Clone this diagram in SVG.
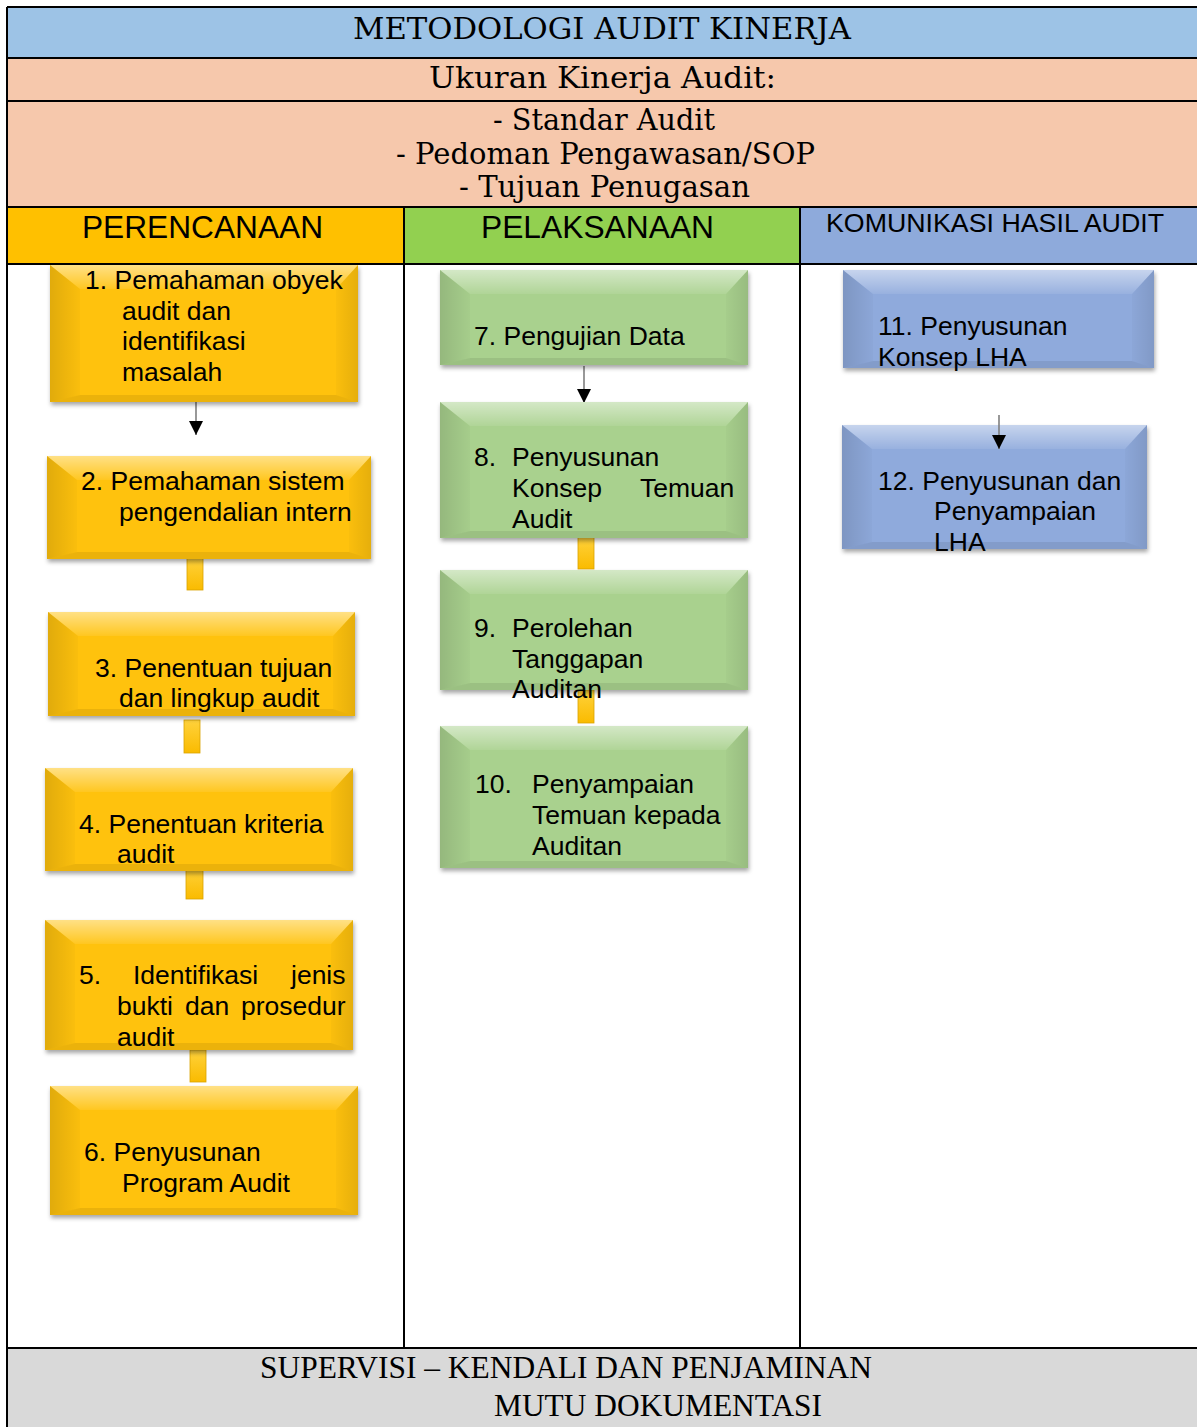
<svg xmlns="http://www.w3.org/2000/svg" width="1197" height="1427" viewBox="0 0 1197 1427">
<defs>
  <linearGradient id="gTop" x1="0" y1="0" x2="0" y2="1">
    <stop offset="0" stop-color="#fff" stop-opacity="0.5"/>
    <stop offset="1" stop-color="#fff" stop-opacity="0.08"/>
  </linearGradient>
  <linearGradient id="gLeft" x1="0" y1="0" x2="1" y2="0">
    <stop offset="0" stop-color="#000" stop-opacity="0.12"/>
    <stop offset="1" stop-color="#000" stop-opacity="0.02"/>
  </linearGradient>
  <linearGradient id="gRight" x1="0" y1="0" x2="1" y2="0">
    <stop offset="0" stop-color="#000" stop-opacity="0.02"/>
    <stop offset="1" stop-color="#000" stop-opacity="0.10"/>
  </linearGradient>
  <linearGradient id="gBar" x1="0" y1="0" x2="0" y2="1">
    <stop offset="0" stop-color="#FFD23C"/>
    <stop offset="1" stop-color="#FABB00"/>
  </linearGradient>
  <filter id="sh" x="-5%" y="-5%" width="112%" height="120%">
    <feDropShadow dx="1" dy="3" stdDeviation="2" flood-color="#000" flood-opacity="0.35"/>
  </filter>
  <marker id="ah" markerUnits="userSpaceOnUse" markerWidth="14" markerHeight="14" refX="14" refY="7" orient="auto">
    <path d="M0,0 L14,7 L0,14 z" fill="#000"/>
  </marker>
  <style>
    .serif{font-family:"DejaVu Serif","Liberation Serif",serif;font-size:29px;fill:#000}
    .foot{font-family:"Liberation Serif","DejaVu Serif",serif;font-size:31px;fill:#000}
    .hd{font-family:"Liberation Sans",Arial,sans-serif;font-size:32px;fill:#000}
    .t{font-family:"Liberation Sans",Arial,sans-serif;font-size:26.5px;fill:#000}
    .grid{stroke:#000;stroke-width:2;fill:none}
    .yel{fill:#FFC20A}
    .grn{fill:#A9D18E}
    .blu{fill:#8FAADC}
    .base{filter:url(#sh)}
    .bt{fill:url(#gTop)}
    .bl{fill:url(#gLeft)}
    .br{fill:url(#gRight)}
    .bb{fill:#000;fill-opacity:0.08}
    .bar{fill:url(#gBar);stroke:#D9A400;stroke-width:0.8}
    .arr{stroke:#7F7F7F;stroke-width:1.6;fill:none;marker-end:url(#ah)}
  </style>
</defs>

<g id="table">
  <rect x="7" y="7" width="1191" height="51" fill="#9DC3E6"/>
  <rect x="7" y="58" width="1191" height="43" fill="#F6C8AC"/>
  <rect x="7" y="101" width="1191" height="106" fill="#F6C8AC"/>
  <rect x="7" y="207" width="397" height="57" fill="#FFC000"/>
  <rect x="404" y="207" width="396" height="57" fill="#92D050"/>
  <rect x="800" y="207" width="398" height="57" fill="#8EAADB"/>
  <rect x="7" y="264" width="1191" height="1084" fill="#fff"/>
  <rect x="7" y="1348" width="1191" height="80" fill="#D9D9D9"/>
  <path class="grid" d="M7,7 H1198 M7,58 H1198 M7,101 H1198 M7,1348 H1198 M7,7 V1427 M404,207 V1348 M800,207 V1348"/>
  <path class="grid" stroke-width="3" d="M7,207 H1198 M7,264 H1198"/>
  <text class="serif" x="353" y="39" textLength="498" lengthAdjust="spacingAndGlyphs">METODOLOGI AUDIT KINERJA</text>
  <text class="serif" x="429" y="88" textLength="347" lengthAdjust="spacingAndGlyphs">Ukuran Kinerja Audit:</text>
  <text class="serif" x="493" y="130" textLength="222" lengthAdjust="spacingAndGlyphs">- Standar Audit</text>
  <text class="serif" x="396" y="164" textLength="419" lengthAdjust="spacingAndGlyphs">- Pedoman Pengawasan/SOP</text>
  <text class="serif" x="459" y="197" textLength="291" lengthAdjust="spacingAndGlyphs">- Tujuan Penugasan</text>
  <text class="hd" x="82" y="238" textLength="241" lengthAdjust="spacingAndGlyphs">PERENCANAAN</text>
  <text class="hd" x="481" y="238" textLength="233" lengthAdjust="spacingAndGlyphs">PELAKSANAAN</text>
  <text class="hd" x="826" y="232" style="font-size:26.6px" textLength="338" lengthAdjust="spacingAndGlyphs">KOMUNIKASI HASIL AUDIT</text>
  <text class="foot" x="260" y="1378" textLength="612" lengthAdjust="spacingAndGlyphs">SUPERVISI – KENDALI DAN PENJAMINAN</text>
  <text class="foot" x="494" y="1416" textLength="328" lengthAdjust="spacingAndGlyphs">MUTU DOKUMENTASI</text>
</g>

<g id="node12">
  <rect class="base blu" x="842" y="425" width="305" height="124"/>
  <polygon class="bt" points="842,425 1147,425 1125,449 872,449"/>
  <polygon class="bl" points="842,425 872,449 872,542 842,549"/>
  <polygon class="br" points="1147,425 1147,549 1125,542 1125,449"/>
  <polygon class="bb" points="842,549 872,542 1125,542 1147,549"/>
  <text class="t" x="878" y="490">12. Penyusunan dan</text>
  <text class="t" x="934" y="520">Penyampaian</text>
  <text class="t" x="934" y="551">LHA</text>
</g>

<g id="connectors">
  <line class="arr" x1="196" y1="401" x2="196" y2="435"/>
  <line class="arr" x1="584" y1="366" x2="584" y2="403"/>
  <line class="arr" x1="999" y1="415" x2="999" y2="449"/>
  <rect class="bar" x="187" y="558" width="16" height="32"/>
  <rect class="bar" x="184" y="720" width="16" height="33"/>
  <rect class="bar" x="186" y="867" width="17" height="32"/>
  <rect class="bar" x="190" y="1050" width="16" height="32"/>
  <rect class="bar" x="578" y="537" width="16" height="32"/>
  <rect class="bar" x="578" y="690" width="16" height="33"/>
</g>

<g id="node1">
  <rect class="base yel" x="50" y="265" width="308" height="137"/>
  <polygon class="bt" points="50,265 358,265 336,289 80,289"/>
  <polygon class="bl" points="50,265 80,289 80,395 50,402"/>
  <polygon class="br" points="358,265 358,402 336,395 336,289"/>
  <polygon class="bb" points="50,402 80,395 336,395 358,402"/>
  <text class="t" x="85" y="289">1. Pemahaman obyek</text>
  <text class="t" x="122" y="320">audit dan</text>
  <text class="t" x="122" y="350">identifikasi</text>
  <text class="t" x="122" y="381">masalah</text>
</g>

<g id="node2">
  <rect class="base yel" x="47" y="456" width="324" height="103"/>
  <polygon class="bt" points="47,456 371,456 349,480 77,480"/>
  <polygon class="bl" points="47,456 77,480 77,552 47,559"/>
  <polygon class="br" points="371,456 371,559 349,552 349,480"/>
  <polygon class="bb" points="47,559 77,552 349,552 371,559"/>
  <text class="t" x="81" y="490">2. Pemahaman sistem</text>
  <text class="t" x="119" y="521">pengendalian intern</text>
</g>

<g id="node3">
  <rect class="base yel" x="48" y="612" width="307" height="104"/>
  <polygon class="bt" points="48,612 355,612 333,636 78,636"/>
  <polygon class="bl" points="48,612 78,636 78,709 48,716"/>
  <polygon class="br" points="355,612 355,716 333,709 333,636"/>
  <polygon class="bb" points="48,716 78,709 333,709 355,716"/>
  <text class="t" x="95" y="677">3. Penentuan tujuan</text>
  <text class="t" x="119" y="707">dan lingkup audit</text>
</g>

<g id="node4">
  <rect class="base yel" x="45" y="768" width="308" height="103"/>
  <polygon class="bt" points="45,768 353,768 331,792 75,792"/>
  <polygon class="bl" points="45,768 75,792 75,864 45,871"/>
  <polygon class="br" points="353,768 353,871 331,864 331,792"/>
  <polygon class="bb" points="45,871 75,864 331,864 353,871"/>
  <text class="t" x="79" y="833">4. Penentuan kriteria</text>
  <text class="t" x="117" y="863">audit</text>
</g>

<g id="node5">
  <rect class="base yel" x="45" y="920" width="308" height="130"/>
  <polygon class="bt" points="45,920 353,920 331,944 75,944"/>
  <polygon class="bl" points="45,920 75,944 75,1043 45,1050"/>
  <polygon class="br" points="353,920 353,1050 331,1043 331,944"/>
  <polygon class="bb" points="45,1050 75,1043 331,1043 353,1050"/>
  <text class="t" y="984"><tspan x="79">5.</tspan><tspan x="133">Identifikasi</tspan><tspan x="291">jenis</tspan></text>
  <text class="t" y="1015"><tspan x="117">bukti</tspan><tspan x="185">dan</tspan><tspan x="241">prosedur</tspan></text>
  <text class="t" x="117" y="1046">audit</text>
</g>

<g id="node6">
  <rect class="base yel" x="50" y="1086" width="308" height="129"/>
  <polygon class="bt" points="50,1086 358,1086 336,1110 80,1110"/>
  <polygon class="bl" points="50,1086 80,1110 80,1208 50,1215"/>
  <polygon class="br" points="358,1086 358,1215 336,1208 336,1110"/>
  <polygon class="bb" points="50,1215 80,1208 336,1208 358,1215"/>
  <text class="t" x="84" y="1161">6. Penyusunan</text>
  <text class="t" x="122" y="1192">Program Audit</text>
</g>

<g id="node7">
  <rect class="base grn" x="440" y="270" width="308" height="95"/>
  <polygon class="bt" points="440,270 748,270 726,294 470,294"/>
  <polygon class="bl" points="440,270 470,294 470,358 440,365"/>
  <polygon class="br" points="748,270 748,365 726,358 726,294"/>
  <polygon class="bb" points="440,365 470,358 726,358 748,365"/>
  <text class="t" x="474" y="345">7. Pengujian Data</text>
</g>

<g id="node8">
  <rect class="base grn" x="440" y="402" width="308" height="136"/>
  <polygon class="bt" points="440,402 748,402 726,426 470,426"/>
  <polygon class="bl" points="440,402 470,426 470,531 440,538"/>
  <polygon class="br" points="748,402 748,538 726,531 726,426"/>
  <polygon class="bb" points="440,538 470,531 726,531 748,538"/>
  <text class="t" y="466"><tspan x="474">8.</tspan><tspan x="512">Penyusunan</tspan></text>
  <text class="t" y="497"><tspan x="512">Konsep</tspan><tspan x="640">Temuan</tspan></text>
  <text class="t" x="512" y="528">Audit</text>
</g>

<g id="node9">
  <rect class="base grn" x="440" y="570" width="308" height="120"/>
  <polygon class="bt" points="440,570 748,570 726,594 470,594"/>
  <polygon class="bl" points="440,570 470,594 470,683 440,690"/>
  <polygon class="br" points="748,570 748,690 726,683 726,594"/>
  <polygon class="bb" points="440,690 470,683 726,683 748,690"/>
  <text class="t" y="637"><tspan x="474">9.</tspan><tspan x="512">Perolehan</tspan></text>
  <text class="t" x="512" y="668">Tanggapan</text>
  <text class="t" x="512" y="698">Auditan</text>
</g>

<g id="node10">
  <rect class="base grn" x="440" y="726" width="308" height="142"/>
  <polygon class="bt" points="440,726 748,726 726,750 470,750"/>
  <polygon class="bl" points="440,726 470,750 470,861 440,868"/>
  <polygon class="br" points="748,726 748,868 726,861 726,750"/>
  <polygon class="bb" points="440,868 470,861 726,861 748,868"/>
  <text class="t" y="793"><tspan x="475">10.</tspan><tspan x="532">Penyampaian</tspan></text>
  <text class="t" x="532" y="824">Temuan kepada</text>
  <text class="t" x="532" y="855">Auditan</text>
</g>

<g id="node11">
  <rect class="base blu" x="843" y="270" width="311" height="98"/>
  <polygon class="bt" points="843,270 1154,270 1132,294 873,294"/>
  <polygon class="bl" points="843,270 873,294 873,361 843,368"/>
  <polygon class="br" points="1154,270 1154,368 1132,361 1132,294"/>
  <polygon class="bb" points="843,368 873,361 1132,361 1154,368"/>
  <text class="t" x="878" y="335">11. Penyusunan</text>
  <text class="t" x="878" y="366">Konsep LHA</text>
</g>
</svg>
